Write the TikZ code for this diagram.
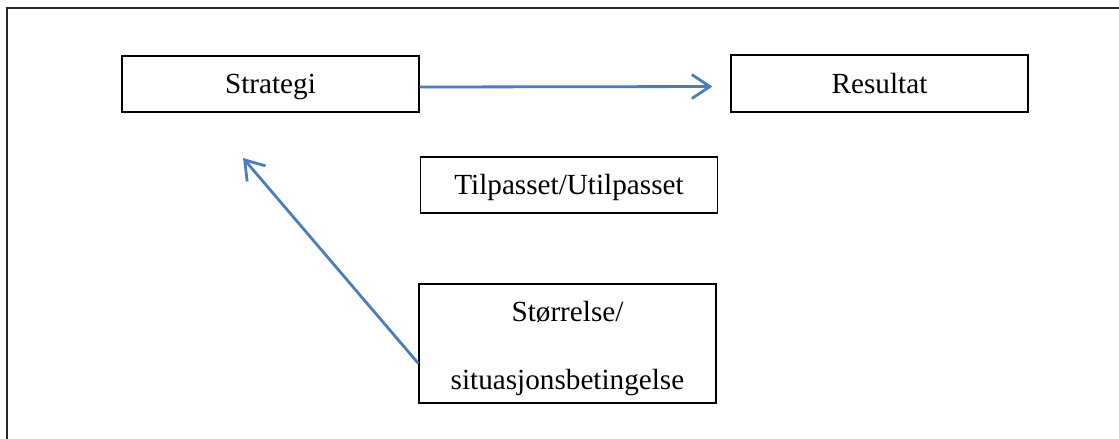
\documentclass[tikz,border=0pt]{standalone}
\usepackage{fontspec}
\setmainfont{Liberation Serif}
\usetikzlibrary{arrows.meta}
\definecolor{linkblue}{RGB}{74,126,187}
\tikzset{
  boxtext/.style={font=\fontsize{14.6}{34}\selectfont},
  box/.style={draw=black, line width=0.65pt, inner sep=0pt,
    minimum width=148.5pt, boxtext, text height=9.7pt, text depth=0pt},
  link/.style={draw=linkblue, line width=1.4pt,
    -{Straight Barb[length=9pt, width=12pt, line width=1.4pt]}}
}
\begin{document}
\begin{tikzpicture}[x=0.5pt, y=-0.5pt]
  \useasboundingbox (0,0) rectangle (1119,439);
  % open outer frame (left and top sides)
  \draw[line width=1pt, black!85] (6.5,439) -- (6.5,8) -- (1119,8);

  \node[box, minimum height=28pt] (strat) at (270.5,84) {Strategi};
  \node[box, minimum height=28.5pt] (res) at (879.5,83.5) {Resultat};
  \node[box, minimum height=28pt] (fit) at (569,185) {Tilpasset/Utilpasset};
  \node[box, minimum height=59.5pt] (size) at (567.5,343.5) {};
  \node[boxtext, align=center, inner sep=0pt] (sizetxt) at ([yshift=-2.5pt]size.center)
    {Størrelse/\\situasjonsbetingelse};

  \coordinate (up) at (243,158);

  \draw[link, shorten >=9pt] ([yshift=-1.5pt]strat.east) -- ([yshift=-1.5pt]res.west);
  \draw[link] ([yshift=-10pt]size.west) -- (up);
\end{tikzpicture}
\end{document}
